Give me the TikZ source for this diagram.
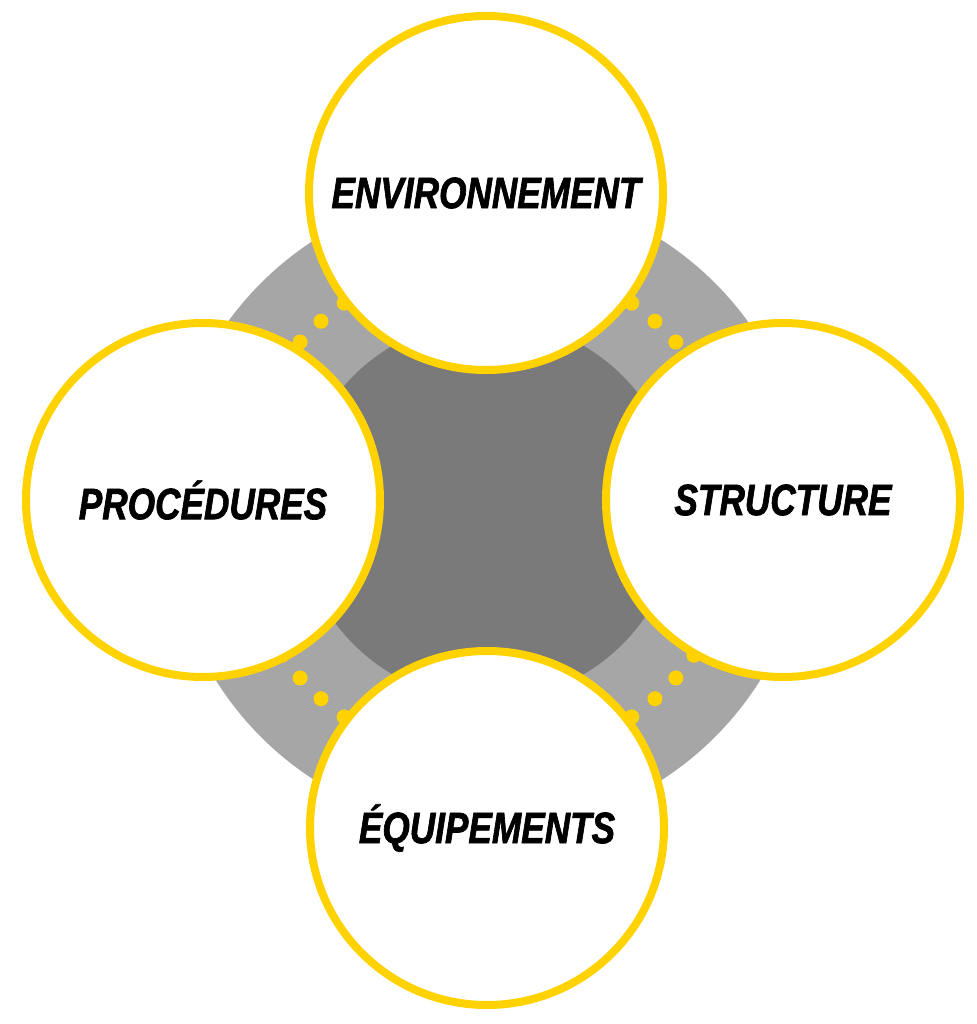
\documentclass[tikz,border=0pt]{standalone}
\usepackage{fontspec}
\newfontfamily\pillarfont[FakeStretch=0.8,FakeBold=1.5]{Liberation Sans}
\definecolor{pillaryellow}{RGB}{255,210,0}
\definecolor{ringgray}{RGB}{166,166,166}
\definecolor{coregray}{RGB}{122,122,122}
\tikzset{
  pillar/.style={circle,draw=pillaryellow,line width=8pt,fill=white,
    minimum size=354pt,inner sep=0pt,
    font=\pillarfont\bfseries\itshape\fontsize{44}{44}\selectfont},
}
\begin{document}
\begin{tikzpicture}[x=1pt,y=1pt]
  \useasboundingbox (-488,-514) rectangle (488,510);
  % ring and core
  \fill[ringgray] (0,0) circle (321);
  \fill[coregray] (0,0) circle (190);
  % dots along the ring
  \foreach \a in {35.2,41.8,48.5,55.2}
    \foreach \t in {\a,-\a,180-\a,180+\a}
      \fill[pillaryellow] (\t:252) circle (7.5);

  \node[pillar] (env) at (-2,317) {ENVIRONNEMENT};
  \node[pillar] (proc) at (-285,10) {PROCÉDURES};
  \node[pillar] (struct) at (295,10) {STRUCTURE};
  \node[pillar] (equip) at (-1,-318) {ÉQUIPEMENTS};
\end{tikzpicture}
\end{document}
